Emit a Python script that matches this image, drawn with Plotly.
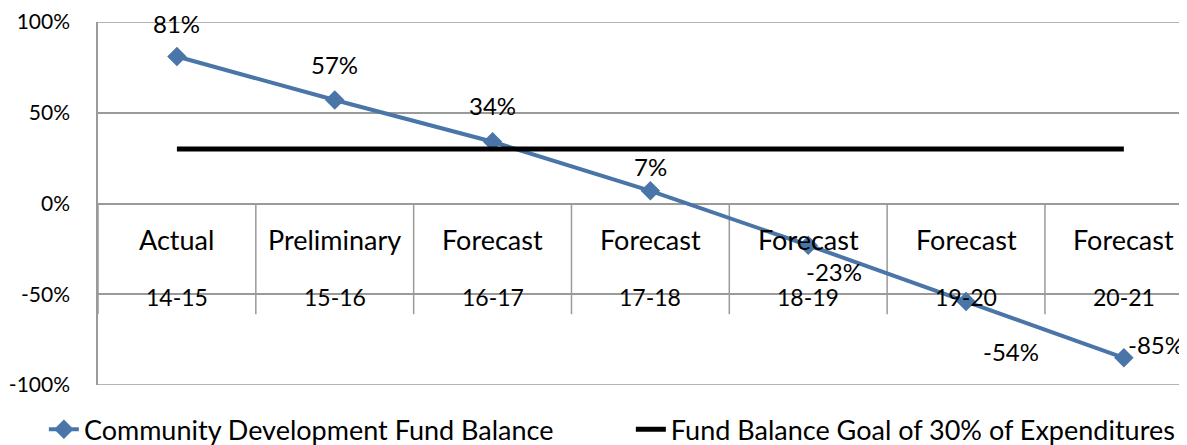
import plotly.graph_objects as go

stages = ["Actual", "Preliminary", "Forecast", "Forecast", "Forecast", "Forecast", "Forecast"]
years = ["14-15", "15-16", "16-17", "17-18", "18-19", "19-20", "20-21"]
fund_balance = [81, 57, 34, 7, -23, -54, -85]
goal = [30, 30, 30, 30, 30, 30, 30]
yticks = [-100, -50, 0, 50, 100]
yticklabels = ["-100%", "-50%", "0%", "50%", "100%"]

FONT = "Lato"
BLUE = "#4A75A8"
GRID = "#9a9a9a"

x = list(range(len(years)))

fig = go.Figure()
fig.add_trace(go.Scatter(
    x=x, y=fund_balance, mode="lines+markers",
    name="Community Development Fund Balance",
    line=dict(color=BLUE, width=4),
    marker=dict(symbol="diamond", size=15, color=BLUE),
    legend="legend",
))
fig.add_trace(go.Scatter(
    x=x, y=goal, mode="lines",
    name="Fund Balance Goal of 30% of Expenditures",
    line=dict(color="black", width=5),
    legend="legend2",
))

# data labels (pixel offsets relative to points)
offsets = [(0, 33), (0, 36), (0, 36), (0, 24), (26, -26), (45, -50), (32, 13)]
annotations = []
for xi, v, (dx, dy) in zip(x, fund_balance, offsets):
    annotations.append(dict(x=xi, y=v, xref="x", yref="y", text=f"{v}%",
                            showarrow=False, xshift=dx, yshift=dy,
                            font=dict(family=FONT, size=24, color="black")))
# category labels inside the plot
for xi, s, yr in zip(x, stages, years):
    annotations.append(dict(x=xi, y=-20, xref="x", yref="y", text=s, showarrow=False,
                            font=dict(family=FONT, size=27, color="black")))
    annotations.append(dict(x=xi, y=-51.5, xref="x", yref="y", text=yr, showarrow=False,
                            font=dict(family=FONT, size=23, color="black")))

shapes = []
for b in [i + 0.5 for i in range(-1, len(years))]:
    shapes.append(dict(type="line", xref="x", yref="y", x0=b, x1=b, y0=0, y1=-61,
                       line=dict(color=GRID, width=1.5), layer="below"))
for edge in (yticks[0], yticks[-1]):
    shapes.append(dict(type="line", xref="paper", yref="y", x0=0, x1=1, y0=edge, y1=edge,
                       line=dict(color=GRID, width=1.5), layer="below"))

fig.update_layout(
    width=1179, height=437,
    margin=dict(l=90, r=0, t=14, b=60, autoexpand=False),
    plot_bgcolor="white", paper_bgcolor="white",
    font=dict(family=FONT, size=20, color="black"),
    showlegend=True,
    annotations=annotations,
    shapes=shapes,
    xaxis=dict(range=[-0.5, 6.40], showticklabels=False, showgrid=False,
               zeroline=False, showline=False, fixedrange=True),
    yaxis=dict(range=[-100, 100], tickvals=yticks, ticktext=yticklabels,
               showgrid=True, gridcolor=GRID, gridwidth=1.5,
               zeroline=True, zerolinecolor=GRID, zerolinewidth=1.5,
               showline=True, linecolor=GRID, linewidth=1.5,
               ticks="", tickfont=dict(family=FONT, size=21), ticklabelstandoff=22,
               ticklabeloverflow="allow"),
    legend=dict(orientation="h", x=-0.0497, xanchor="left", y=-0.123, yanchor="middle",
                font=dict(family=FONT, size=27), bgcolor="rgba(0,0,0,0)",
                itemwidth=30),
    legend2=dict(orientation="h", x=0.4893, xanchor="left", y=-0.123, yanchor="middle",
                 font=dict(family=FONT, size=27), bgcolor="rgba(0,0,0,0)",
                 itemwidth=30),
)

fig.write_html("out.html")
